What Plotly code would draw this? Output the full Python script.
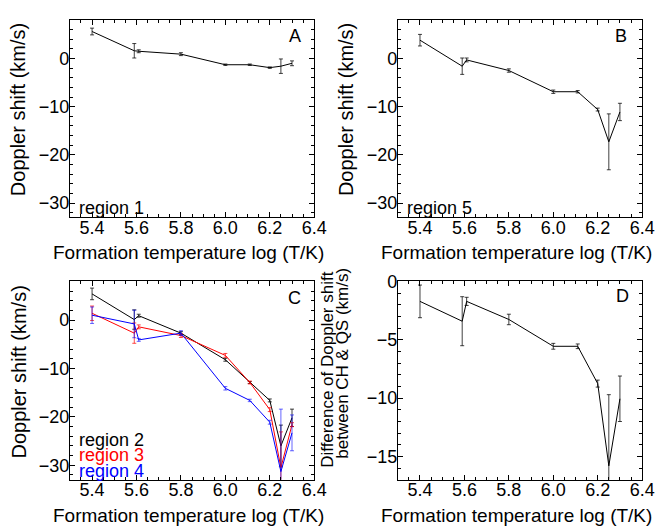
import plotly.graph_objects as go

# The page body adds an 8px margin, so the figure is 8px smaller and
# every pixel position below is given in window coordinates.
OFF = 8
W, H = 668 - OFF, 526 - OFF

# ---- data ----
logT = [5.4, 5.59, 5.61, 5.8, 6.0, 6.11, 6.2, 6.25, 6.3]

region1 = [5.6, 1.6, 1.5, 0.9, -1.3, -1.3, -1.9, -1.6, -1.0]
region1_err = [0.7, 1.5, 0.3, 0.3, 0.15, 0.15, 0.15, 1.5, 0.5]

region5 = [3.8, -1.6, -0.3, -2.5, -6.9, -6.9, -10.6, -17.3, -11.1]
region5_err = [1.2, 1.7, 0.4, 0.35, 0.35, 0.25, 0.3, 5.8, 1.8]

region2 = [5.4, 0.1, 0.9, -2.7, -8.2, -12.9, -16.6, -26.0, -20.2]
region2_err = [1.2, 2.0, 0.3, 0.3, 0.3, 0.2, 0.3, 4.3, 1.8]

region3 = [1.4, -2.7, -1.4, -3.2, -7.3, -12.9, -18.5, -30.5, -21.6]
region3_err = [1.5, 2.1, 0.4, 0.4, 0.4, 0.3, 0.4, 7.4, 0.4]

region4 = [1.0, -0.8, -4.1, -2.7, -14.1, -16.6, -21.1, -31.3, -23.3]
region4_err = [1.7, 2.85, 0.3, 0.5, 0.35, 0.25, 0.4, 12.9, 3.7]

diff_ch_qs = [-1.7, -3.4, -1.7, -3.25, -5.55, -5.55, -8.75, -15.8, -10.05]
diff_ch_qs_err = [1.4, 2.1, 0.35, 0.45, 0.25, 0.2, 0.3, 6.1, 1.95]

x_ticks = [5.4, 5.6, 5.8, 6.0, 6.2, 6.4]
x_ticktext = ["5.4", "5.6", "5.8", "6.0", "6.2", "6.4"]

FONT = "Arial, Liberation Sans, sans-serif"


def px_x(p):
    return (p - OFF) / W


def px_y(p):
    return 1 - (p - OFF) / H


fig = go.Figure()


def add_series(y, err, color, ecolor, xa, ya):
    fig.add_trace(go.Scatter(
        x=logT, y=y, mode="lines", xaxis=xa, yaxis=ya,
        line=dict(color=color, width=1),
        error_y=dict(type="data", array=err, visible=True,
                     color=ecolor, thickness=1, width=2),
        showlegend=False, hoverinfo="skip"))


add_series(region1, region1_err, "black", "rgba(0,0,0,0.75)", "x", "y")
add_series(region5, region5_err, "black", "rgba(0,0,0,0.75)", "x2", "y2")
add_series(region2, region2_err, "black", "rgba(0,0,0,0.75)", "x3", "y3")
add_series(region3, region3_err, "red", "rgba(255,0,0,0.7)", "x3", "y3")
add_series(region4, region4_err, "blue", "rgba(0,0,255,0.6)", "x3", "y3")
add_series(diff_ch_qs, diff_ch_qs_err, "black", "rgba(0,0,0,0.75)", "x4", "y4")

# panel pixel boxes in window coords (left, right, top, bottom)
boxes = {
    1: (71, 320, 11, 212),
    2: (405, 654, 11, 212),
    3: (71, 320, 277, 479),
    4: (405, 654, 277, 479),
}

common = dict(showline=True, linecolor="black", linewidth=1, mirror="ticks",
              ticks="inside", ticklen=5, tickwidth=1, tickcolor="black",
              showgrid=False, zeroline=False,
              tickfont=dict(family=FONT, size=18, color="black"))

layout = dict(width=W, height=H, margin=dict(l=0, r=0, t=0, b=0),
              paper_bgcolor="white", plot_bgcolor="white")

for i, (l, r, t, b) in boxes.items():
    xs = "" if i == 1 else str(i)
    xa = dict(common, domain=[px_x(l), px_x(r)], range=[5.3, 6.4005],
              tickvals=x_ticks, ticktext=x_ticktext, anchor="y" + xs,
              ticklabelstandoff=-6,
              minor=dict(ticks="inside", ticklen=3, tickwidth=1,
                         tickcolor="black", dtick=0.05, tick0=5.3))
    if i == 4:
        ya = dict(common, domain=[px_y(b), px_y(t)], range=[-17, 0.02],
                  dtick=5, tick0=0, anchor="x" + xs, ticklabelstandoff=-4,
                  minor=dict(ticks="inside", ticklen=3, tickwidth=1,
                             tickcolor="black", dtick=1, tick0=0))
    else:
        ya = dict(common, domain=[px_y(b), px_y(t)], range=[-33, 8],
                  dtick=10, tick0=0, anchor="x" + xs, ticklabelstandoff=-4,
                  minor=dict(ticks="inside", ticklen=3, tickwidth=1,
                             tickcolor="black", dtick=2, tick0=0))
    layout["xaxis" + xs] = xa
    layout["yaxis" + xs] = ya

fig.update_layout(**layout)


def ann(text, x, y, size=18, color="black", angle=0, xanchor="center", yanchor="middle", align="center"):
    fig.add_annotation(text=text, x=px_x(x), y=px_y(y), xref="paper", yref="paper",
                       showarrow=False, textangle=angle, xanchor=xanchor, yanchor=yanchor,
                       align=align, font=dict(family=FONT, size=size, color=color))


xt = "Formation temperature log (T/K)"
ann(xt, 192, 248, size=19)
ann(xt, 526, 248, size=19)
ann(xt, 192, 515, size=19)
ann(xt, 526, 515, size=19)

yt = "Doppler shift (km/s)"
ann(yt, 19, 102, size=20, angle=-90)
ann(yt, 353, 102, size=20, angle=-90)
ann(yt, 19, 369, size=20, angle=-90)
ann("Difference of Doppler shift", 334, 367, size=17, angle=-90)
ann("between CH &amp; QS (km/s)", 349, 360, size=17, angle=-90)

ann("A", 300, 27)
ann("B", 632, 27)
ann("C", 300, 294)
ann("D", 634, 292)

ann("region 1", 78, 202, size=18, xanchor="left")
ann("region 5", 412, 202, size=18, xanchor="left")
ann("region 2", 78, 438, size=18, xanchor="left")
ann("region 3", 78, 454, size=18, color="red", xanchor="left")
ann("region 4", 78, 470, size=18, color="blue", xanchor="left")

fig.write_html("out.html")
